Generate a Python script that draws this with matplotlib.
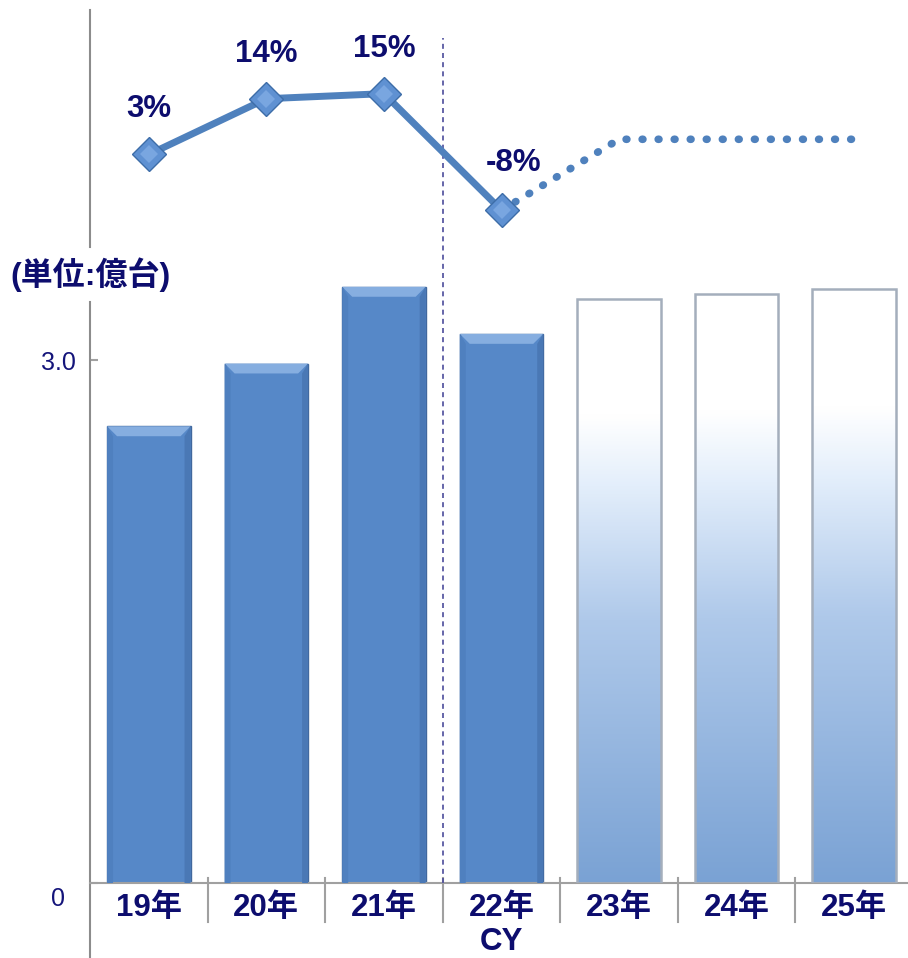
import numpy as np
import matplotlib
matplotlib.use('Agg')
import matplotlib.pyplot as plt
from matplotlib.colors import LinearSegmentedColormap
from matplotlib.patches import Polygon, Rectangle
from matplotlib.transforms import ScaledTranslation

plt.rcParams['font.family'] = ['Liberation Sans', 'Noto Sans CJK JP']

years = ['19年', '20年', '21年', '22年', '23年', '24年', '25年']
actual = [2.62, 2.98, 3.42, 3.15]
forecast = [3.35, 3.38, 3.41]
growth = [3, 14, 15, -8]
growth_fc = [6, 6, 6]

navy = '#0D0D6E'
blue = '#5688C8'
line_blue = '#4F81BD'

fig = plt.figure(figsize=(9.08, 9.58), dpi=100)
ax = fig.add_axes([90 / 908, 75 / 958, 823 / 908, 873 / 958])
ax2 = ax.twinx()

w = 0.71
xa = np.arange(len(actual))
xf = np.arange(len(actual), len(years))

# actual bars with a light bevel on top
ax.bar(xa, actual, width=w, color=blue, edgecolor='#41689E', linewidth=1, zorder=2)
dx, dy = 0.085, 0.057
for x, v in zip(xa, actual):
    x0, x1 = x - w / 2, x + w / 2
    ax.add_patch(Polygon([(x0, v), (x1, v), (x1 - dx, v - dy), (x0 + dx, v - dy)],
                         closed=True, color='#86AEE0', lw=0, zorder=3))
    ax.add_patch(Polygon([(x0, v), (x0 + dx * 0.6, v - dy), (x0 + dx * 0.6, 0), (x0, 0)],
                         closed=True, color='#4F80BF', lw=0, zorder=3))
    ax.add_patch(Polygon([(x1, v), (x1 - dx * 0.6, v - dy), (x1 - dx * 0.6, 0), (x1, 0)],
                         closed=True, color='#4A78B5', lw=0, zorder=3))

# forecast bars with a white-to-blue gradient
cmap = LinearSegmentedColormap.from_list(
    'fc', [(0, '#7AA2D4'), (0.45, '#AFC9EA'), (0.68, '#E3EEFB'), (0.8, '#FFFFFF'), (1, '#FFFFFF')])
grad = np.linspace(0, 1, 256).reshape(-1, 1)
for x, v in zip(xf, forecast):
    ax.imshow(grad, extent=[x - w / 2, x + w / 2, 0, v], origin='lower', cmap=cmap,
              aspect='auto', zorder=2, interpolation='bicubic')
    ax.add_patch(Rectangle((x - w / 2, 0), w, v, fill=False, edgecolor='#A4AEBC',
                           linewidth=1.8, zorder=3))

ax.set_xlim(-0.5, 6.5)
ax.set_ylim(0, 5.008)

# dashed divider between actual and forecast
ax.vlines(2.5, 0, 4.85, colors='#4B4B9B', linestyles=(0, (3, 2.5)), linewidth=1.2, zorder=4)

# axes styling
for s in ['top', 'right', 'left']:
    ax.spines[s].set_visible(False)
ax.spines['bottom'].set_color('#A0A0A0')
ax.spines['bottom'].set_linewidth(1.5)
ax.set_yticks([0, 3.0])
ax.set_yticklabels(['0', '3.0'], fontsize=18, color='#14147A')
ax.tick_params(axis='y', direction='in', length=6, width=1.5, color='#A0A0A0', pad=10)
lab0 = ax.get_yticklabels()[0]
lab0.set_transform(lab0.get_transform() + ScaledTranslation(-0.11, -0.14, fig.dpi_scale_trans))
ax.set_xticks(range(len(years)))
ax.set_xticklabels(years, fontsize=22.5, fontweight='bold', color=navy)
ax.tick_params(axis='x', length=0, pad=7)

tr = ax.get_xaxis_transform()
ax.plot([-0.5, -0.5], [1.0, 0.7285], transform=tr, color='#8C8C8C', lw=1.5, clip_on=False)
ax.plot([-0.5, -0.5], [0.6655, -0.0859], transform=tr, color='#8C8C8C', lw=1.5, clip_on=False)
for b in np.arange(0.5, 6.5, 1):
    ax.plot([b, b], [0.0057, -0.0447], transform=tr, color='#A0A0A0', lw=1.5, clip_on=False)

ax.text(3, -0.0676, 'CY', transform=tr, ha='center', va='center',
        fontsize=22.5, fontweight='bold', color=navy)
fig.text(90 / 908, 1 - 275 / 958, '(単位:億台)', ha='center', va='center',
         fontsize=23, fontweight='bold', color=navy)

# growth line
ax2.set_ylim(-140.7, 31.5)
ax2.axis('off')
ax2.plot(xa, growth, color=line_blue, lw=5, zorder=5, solid_capstyle='round')
ax2.plot(np.r_[xa[-1], xf], [growth[-1]] + growth_fc, color=line_blue, lw=5.5,
         linestyle=(0, (0.1, 2.0)), dash_capstyle='round', zorder=5)
ax2.plot(xa, growth, linestyle='none', marker='D', markersize=17.5,
         markerfacecolor='#5F91D2', markeredgecolor='#3D6DA8', markeredgewidth=1, zorder=6)
ax2.plot(xa, growth, linestyle='none', marker='D', markersize=9,
         markerfacecolor='#79A6E0', markeredgewidth=0, zorder=7)
offsets = [(0, 45), (0, 45), (0, 45), (12, 47)]
for x, v, off in zip(xa, growth, offsets):
    ax2.annotate(f'{v}%', (x, v), xytext=off, textcoords='offset pixels',
                 ha='center', va='center', fontsize=22.5, fontweight='bold', color=navy)

fig.savefig('out.png', dpi=100)
